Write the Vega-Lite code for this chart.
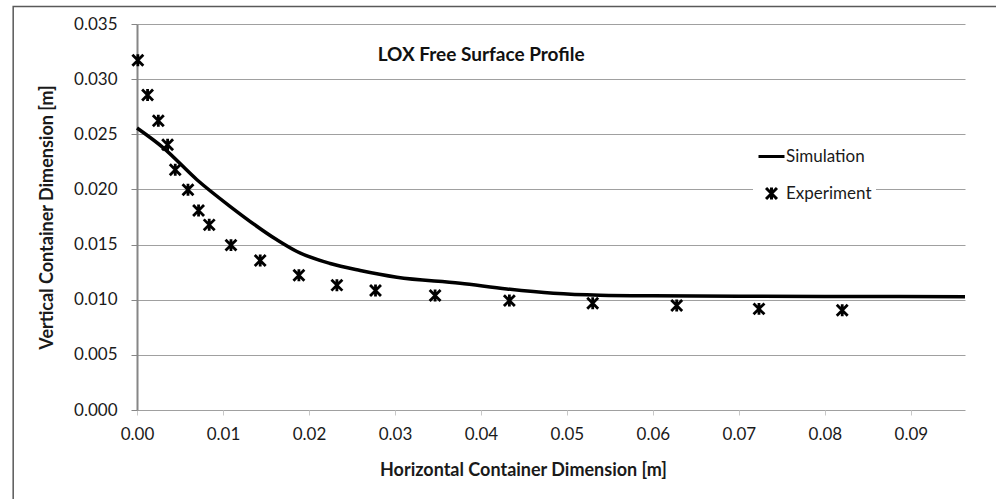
{
  "$schema": "https://vega.github.io/schema/vega-lite/v6.json",
  "width": 828,
  "height": 386,
  "autosize": {"type": "none"},
  "padding": {"left": 137, "top": 24, "right": 31, "bottom": 89},
  "background": "white",
  "config": {
    "view": {"stroke": null},
    "font": "Lato",
    "axis": {"labelFont": "Lato", "titleFont": "Lato", "labelColor": "#1a1a1a", "titleColor": "#1a1a1a"}
  },
  "datasets": {
    "simulation": [
      {"x": 0.0, "y": 0.02557},
      {"x": 0.0031, "y": 0.02375},
      {"x": 0.00697, "y": 0.02088},
      {"x": 0.01085, "y": 0.01845},
      {"x": 0.01627, "y": 0.01543},
      {"x": 0.0186, "y": 0.01437},
      {"x": 0.02247, "y": 0.01328},
      {"x": 0.02596, "y": 0.01265},
      {"x": 0.03022, "y": 0.01204},
      {"x": 0.03758, "y": 0.01150},
      {"x": 0.04301, "y": 0.01098},
      {"x": 0.04843, "y": 0.01059},
      {"x": 0.05385, "y": 0.01041},
      {"x": 0.06, "y": 0.01035},
      {"x": 0.07, "y": 0.01032},
      {"x": 0.08, "y": 0.0103},
      {"x": 0.0963, "y": 0.01028}
    ],
    "experiment": [
      {"x": 0.0001, "y": 0.03171, "series": "Experiment"},
      {"x": 0.00123, "y": 0.02856, "series": "Experiment"},
      {"x": 0.00248, "y": 0.02623, "series": "Experiment"},
      {"x": 0.00356, "y": 0.02405, "series": "Experiment"},
      {"x": 0.00445, "y": 0.02178, "series": "Experiment"},
      {"x": 0.00593, "y": 0.01997, "series": "Experiment"},
      {"x": 0.00716, "y": 0.01809, "series": "Experiment"},
      {"x": 0.0084, "y": 0.01679, "series": "Experiment"},
      {"x": 0.01093, "y": 0.01495, "series": "Experiment"},
      {"x": 0.01433, "y": 0.01355, "series": "Experiment"},
      {"x": 0.01883, "y": 0.01222, "series": "Experiment"},
      {"x": 0.02325, "y": 0.01132, "series": "Experiment"},
      {"x": 0.02774, "y": 0.01083, "series": "Experiment"},
      {"x": 0.03467, "y": 0.01038, "series": "Experiment"},
      {"x": 0.04331, "y": 0.00992, "series": "Experiment"},
      {"x": 0.053, "y": 0.00968, "series": "Experiment"},
      {"x": 0.06277, "y": 0.00947, "series": "Experiment"},
      {"x": 0.07234, "y": 0.00917, "series": "Experiment"},
      {"x": 0.08202, "y": 0.00905, "series": "Experiment"}
    ]
  },
  "layer": [
    {
      "data": {"values": [{"x0": -0.0144, "x1": 0.1, "y0": 0.03658, "y1": -0.0085}]},
      "mark": {"type": "rect", "fill": null, "stroke": "#595959", "strokeWidth": 1.5},
      "encoding": {
        "x": {"field": "x0", "type": "quantitative"},
        "x2": {"field": "x1"},
        "y": {"field": "y0", "type": "quantitative"},
        "y2": {"field": "y1"}
      }
    },
    {
      "data": {"name": "simulation"},
      "mark": {"type": "line", "color": "black", "strokeWidth": 3.5, "interpolate": "monotone"},
      "encoding": {
        "x": {
          "field": "x", "type": "quantitative",
          "scale": {"domain": [0, 0.0963], "nice": false, "zero": false},
          "axis": {
            "title": "Horizontal Container Dimension [m]",
            "values": [0, 0.01, 0.02, 0.03, 0.04, 0.05, 0.06, 0.07, 0.08, 0.09],
            "format": ".2f",
            "grid": false,
            "domain": false,
            "tickColor": "#c8c8c8",
            "tickSize": 5,
            "labelFontSize": 17,
            "labelPadding": 11,
            "labelFlush": false,
            "labelOverlap": false,
            "titleFontSize": 18,
            "titleFontWeight": "bold",
            "titlePadding": 19,
            "titleX": 386
          }
        },
        "y": {
          "field": "y", "type": "quantitative",
          "scale": {"domain": [0, 0.035], "nice": false, "zero": false},
          "axis": {
            "title": "Vertical Container Dimension [m]",
            "values": [0, 0.005, 0.01, 0.015, 0.02, 0.025, 0.03, 0.035],
            "format": ".3f",
            "grid": true,
            "gridColor": "#a0a0a0",
            "gridWidth": 1,
            "domainColor": "#868686",
            "domainWidth": 2,
            "tickColor": "#868686",
            "tickSize": 6,
            "labelFontSize": 17,
            "labelPadding": 14,
            "labelFlush": false,
            "labelOverlap": false,
            "titleFontSize": 18,
            "titleFontWeight": "bold",
            "titlePadding": 17
          }
        }
      }
    },
    {
      "data": {"name": "experiment"},
      "mark": {"type": "point", "filled": false, "stroke": "black", "strokeWidth": 2.8, "size": 676, "opacity": 1},
      "encoding": {
        "x": {"field": "x", "type": "quantitative"},
        "y": {"field": "y", "type": "quantitative"},
        "shape": {
          "field": "series", "type": "nominal",
          "scale": {
            "domain": ["Simulation", "Experiment"],
            "range": ["M-1,0H1", "M-0.42,-0.42L0.42,0.42M-0.42,0.42L0.42,-0.42M0,-0.46V0.46"]
          },
          "legend": {
            "title": null,
            "orient": "none",
            "legendX": 616,
            "legendY": 114,
            "fillColor": "white",
            "padding": 4,
            "symbolSize": 676,
            "symbolStrokeWidth": 3,
            "symbolStrokeColor": "black",
            "symbolFillColor": "transparent",
            "labelFont": "Lato",
            "labelFontSize": 17,
            "labelColor": "#1a1a1a",
            "labelOffset": 0,
            "rowPadding": 14
          }
        }
      }
    },
    {
      "data": {"values": [{"x": 0.04002, "y": 0.03222, "label": "LOX Free Surface Profile"}]},
      "mark": {"type": "text", "font": "Lato", "fontSize": 19, "fontWeight": "bold", "align": "center", "baseline": "middle", "color": "#111111"},
      "encoding": {
        "x": {"field": "x", "type": "quantitative"},
        "y": {"field": "y", "type": "quantitative"},
        "text": {"field": "label"}
      }
    }
  ]
}
